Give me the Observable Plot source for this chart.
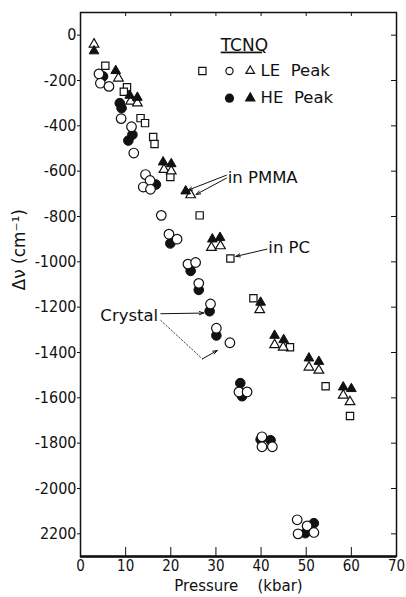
<!DOCTYPE html>
<html><head><meta charset="utf-8">
<script src="https://cdn.jsdelivr.net/npm/d3@7"></script>
<script src="https://cdn.jsdelivr.net/npm/@observablehq/plot@0.6"></script>
<style>body{margin:0;background:#fff}</style>
</head><body><div id="chart"></div>
<script>
// ---- data ----
const xTicks = [0, 10, 20, 30, 40, 50, 60, 70];
const yTicks = [0, -200, -400, -600, -800, -1000, -1200, -1400, -1600, -1800, -2000, -2200];
const yTickLabels = ["0", "-200", "-400", "-600", "-800", "-1000", "-1200", "-1400", "-1600", "-1800", "-2000", "2200"];
const xDomain = [0, 70];
const yDomain = [-2300, 100];

// LE peak, open squares (in PC)
const sqX = [5.5, 10.3, 9.6, 13.3, 14.3, 16.1, 16.4, 19.9, 26.4, 33.2, 38.3, 46.4, 54.3, 59.7];
const sqY = [-135, -230, -250, -366, -388, -449, -480, -626, -795, -985, -1161, -1377, -1549, -1680];
// LE peak, open circles (crystal)
const ocX = [4.1, 4.4, 6.3, 9.0, 11.3, 11.8, 14.4, 15.4, 13.9, 15.5, 17.9, 19.6, 21.4, 23.8, 25.5, 26.2, 28.8, 30.1, 33.1, 35.1, 36.9, 40.2, 40.2, 42.5, 48.0, 48.2, 50.2, 51.7];
const ocY = [-171, -212, -226, -368, -404, -520, -615, -641, -670, -680, -795, -878, -900, -1010, -1003, -1095, -1186, -1293, -1357, -1574, -1574, -1772, -1816, -1816, -2138, -2200, -2165, -2194];
// HE peak, filled circles (crystal)
const fcX = [5.0, 8.7, 9.1, 11.5, 10.6, 16.7, 19.9, 24.4, 26.2, 28.6, 30.1, 35.4, 35.8, 39.9, 42.1, 49.8, 51.7];
const fcY = [-182, -300, -322, -439, -465, -659, -919, -1040, -1124, -1218, -1325, -1535, -1593, -1784, -1787, -2197, -2153];
// LE peak, open triangles (in PMMA)
const otX = [3.0, 8.4, 11.1, 12.6, 18.5, 20.1, 24.4, 29.0, 31.0, 39.7, 43.0, 44.9, 50.6, 52.8, 58.2, 59.7];
const otY = [-40, -190, -292, -300, -593, -600, -705, -937, -930, -1212, -1366, -1377, -1465, -1479, -1589, -1618];
// HE peak, filled triangles (in PMMA)
const ftX = [3.0, 7.8, 10.9, 12.6, 18.3, 20.1, 23.3, 29.2, 30.9, 39.9, 43.0, 45.0, 50.6, 52.8, 58.2, 60.0];
const ftY = [-70, -157, -266, -275, -560, -568, -688, -900, -893, -1179, -1325, -1344, -1425, -1440, -1553, -1560];

// legend / annotations (data space)
const legendTitle = "TCNQ";
const legendLabels = ["LE\u00a0\u00a0Peak", "HE\u00a0\u00a0Peak"];
const annotations = [
  {text: "in PMMA", x: 32.6, y: -631},
  {text: "in PC", x: 41.6, y: -938},
  {text: "Crystal", x: 4.4, y: -1237}
];
const arrows = [
  {x1: 32.3, y1: -618, x2: 23.8, y2: -684, dash: "3,2"},
  {x1: 32.3, y1: -631, x2: 25.6, y2: -703, dash: "3,2"},
  {x1: 41.3, y1: -944, x2: 34.4, y2: -976, dash: null},
  {x1: 17.8, y1: -1229, x2: 27.3, y2: -1226, dash: "4,2"},
  {x1: 27.0, y1: -1428, x2: 30.3, y2: -1391, dash: null}
];
const crystalLine = [{x: 17.8, y: -1259}, {x: 27.0, y: -1428}];
const xLabel = "Pressure\u00a0\u00a0\u00a0\u00a0(kbar)";
const yLabel = "\u0394\u03bd (cm\u207b\u00b9)";

// ---- build ----
const pts = (xs, ys) => xs.map((x, i) => ({x, y: ys[i]}));
const INK = "#111";
const TICKFONT = "'Liberation Sans Narrow','DejaVu Sans Condensed','Liberation Sans',sans-serif";
const TXT = "'DejaVu Sans',sans-serif";
const W = 406, H = 597, mL = 80, mR = 10, mT = 12, mB = 41;
const fw = W - mL - mR, fh = H - mT - mB;

const chart = Plot.plot({
  width: W, height: H,
  marginLeft: mL, marginRight: mR, marginTop: mT, marginBottom: mB,
  x: {domain: xDomain},
  y: {domain: yDomain},
  style: {fontFamily: TICKFONT, fontSize: "16px", color: INK, background: "#fff"},
  marks: [
    Plot.axisX(xTicks, {anchor: "bottom", tickSize: 0, tickPadding: 4, fontSize: 15, label: null}),
    Plot.axisY(yTicks, {anchor: "left", tickSize: 3, tickPadding: 1, fontSize: 16, label: null,
      tickFormat: d => yTickLabels[yTicks.indexOf(d)]}),
    Plot.tickX(xTicks.slice(1, -1), {x: d => d, insetTop: fh - 9, stroke: INK}),
    Plot.tickX(xTicks.slice(1, -1), {x: d => d, insetBottom: fh - 4, stroke: INK}),
    Plot.tickY(yTicks, {y: d => d, insetLeft: fw - 5, stroke: INK}),
    Plot.frame({stroke: INK, strokeWidth: 1.5}),
    Plot.ruleY([yDomain[0]], {stroke: INK, strokeWidth: 2.5}),
    // annotation lines
    Plot.line(crystalLine, {x: "x", y: "y", stroke: INK, strokeWidth: 0.8, strokeDasharray: "1.5,2"}),
    Plot.arrow(arrows, {x1: "x1", y1: "y1", x2: "x2", y2: "y2", stroke: INK, strokeWidth: 1,
      headLength: 7, headAngle: 40, strokeDasharray: d => d.dash}),
    // data
    Plot.dot(pts(fcX, fcY), {x: "x", y: "y", r: 4.8, fill: INK, stroke: INK, strokeWidth: 1}),
    Plot.dot(pts(ocX, ocY), {x: "x", y: "y", r: 4.8, fill: "white", stroke: INK, strokeWidth: 1.2}),
    Plot.dot(pts(sqX, sqY), {x: "x", y: "y", r: 4.1, symbol: "square", fill: "white", stroke: INK, strokeWidth: 1.2}),
    Plot.dot(pts(otX, otY), {x: "x", y: "y", r: 3.6, symbol: "triangle", fill: "white", stroke: INK, strokeWidth: 1.2}),
    Plot.dot(pts(ftX, ftY), {x: "x", y: "y", r: 3.6, symbol: "triangle", fill: INK, stroke: INK, strokeWidth: 1}),
    // legend
    Plot.text([legendTitle], {x: 36.3, y: -44, text: d => d, fontFamily: TXT, fontSize: 17, fill: INK}),
    Plot.dot([{x: 27.0, y: -158}], {x: "x", y: "y", r: 4.1, symbol: "square", fill: "white", stroke: INK, strokeWidth: 1.2}),
    Plot.dot([{x: 33.0, y: -158}], {x: "x", y: "y", r: 3.6, fill: "white", stroke: INK, strokeWidth: 1.2}),
    Plot.dot([{x: 37.6, y: -158}], {x: "x", y: "y", r: 3.2, symbol: "triangle", fill: "white", stroke: INK, strokeWidth: 1.2}),
    Plot.dot([{x: 33.0, y: -278}], {x: "x", y: "y", r: 4.6, fill: INK}),
    Plot.dot([{x: 37.6, y: -278}], {x: "x", y: "y", r: 3.2, symbol: "triangle", fill: INK, stroke: INK}),
    Plot.text([{t: legendLabels[0], y: -158}, {t: legendLabels[1], y: -278}], {x: 39.9, y: "y", text: "t",
      textAnchor: "start", fontFamily: TXT, fontSize: 16.5, fill: INK}),
    Plot.text(annotations, {x: "x", y: "y", text: "text", textAnchor: "start", fontFamily: TXT, fontSize: 16.5, fill: INK}),
    // axis titles
    Plot.text([xLabel], {frameAnchor: "bottom", dy: 34, text: d => d, fontFamily: TXT, fontSize: 15, fill: INK}),
    Plot.text([yLabel], {frameAnchor: "left", dx: -61, dy: 6, rotate: -90, text: d => d, fontFamily: TXT, fontSize: 17, fill: INK})
  ]
});
chart.querySelectorAll("text").forEach(t => {
  if (t.textContent === legendTitle) t.style.textDecoration = "underline";
});
document.getElementById("chart").appendChild(chart);
</script></body></html>
